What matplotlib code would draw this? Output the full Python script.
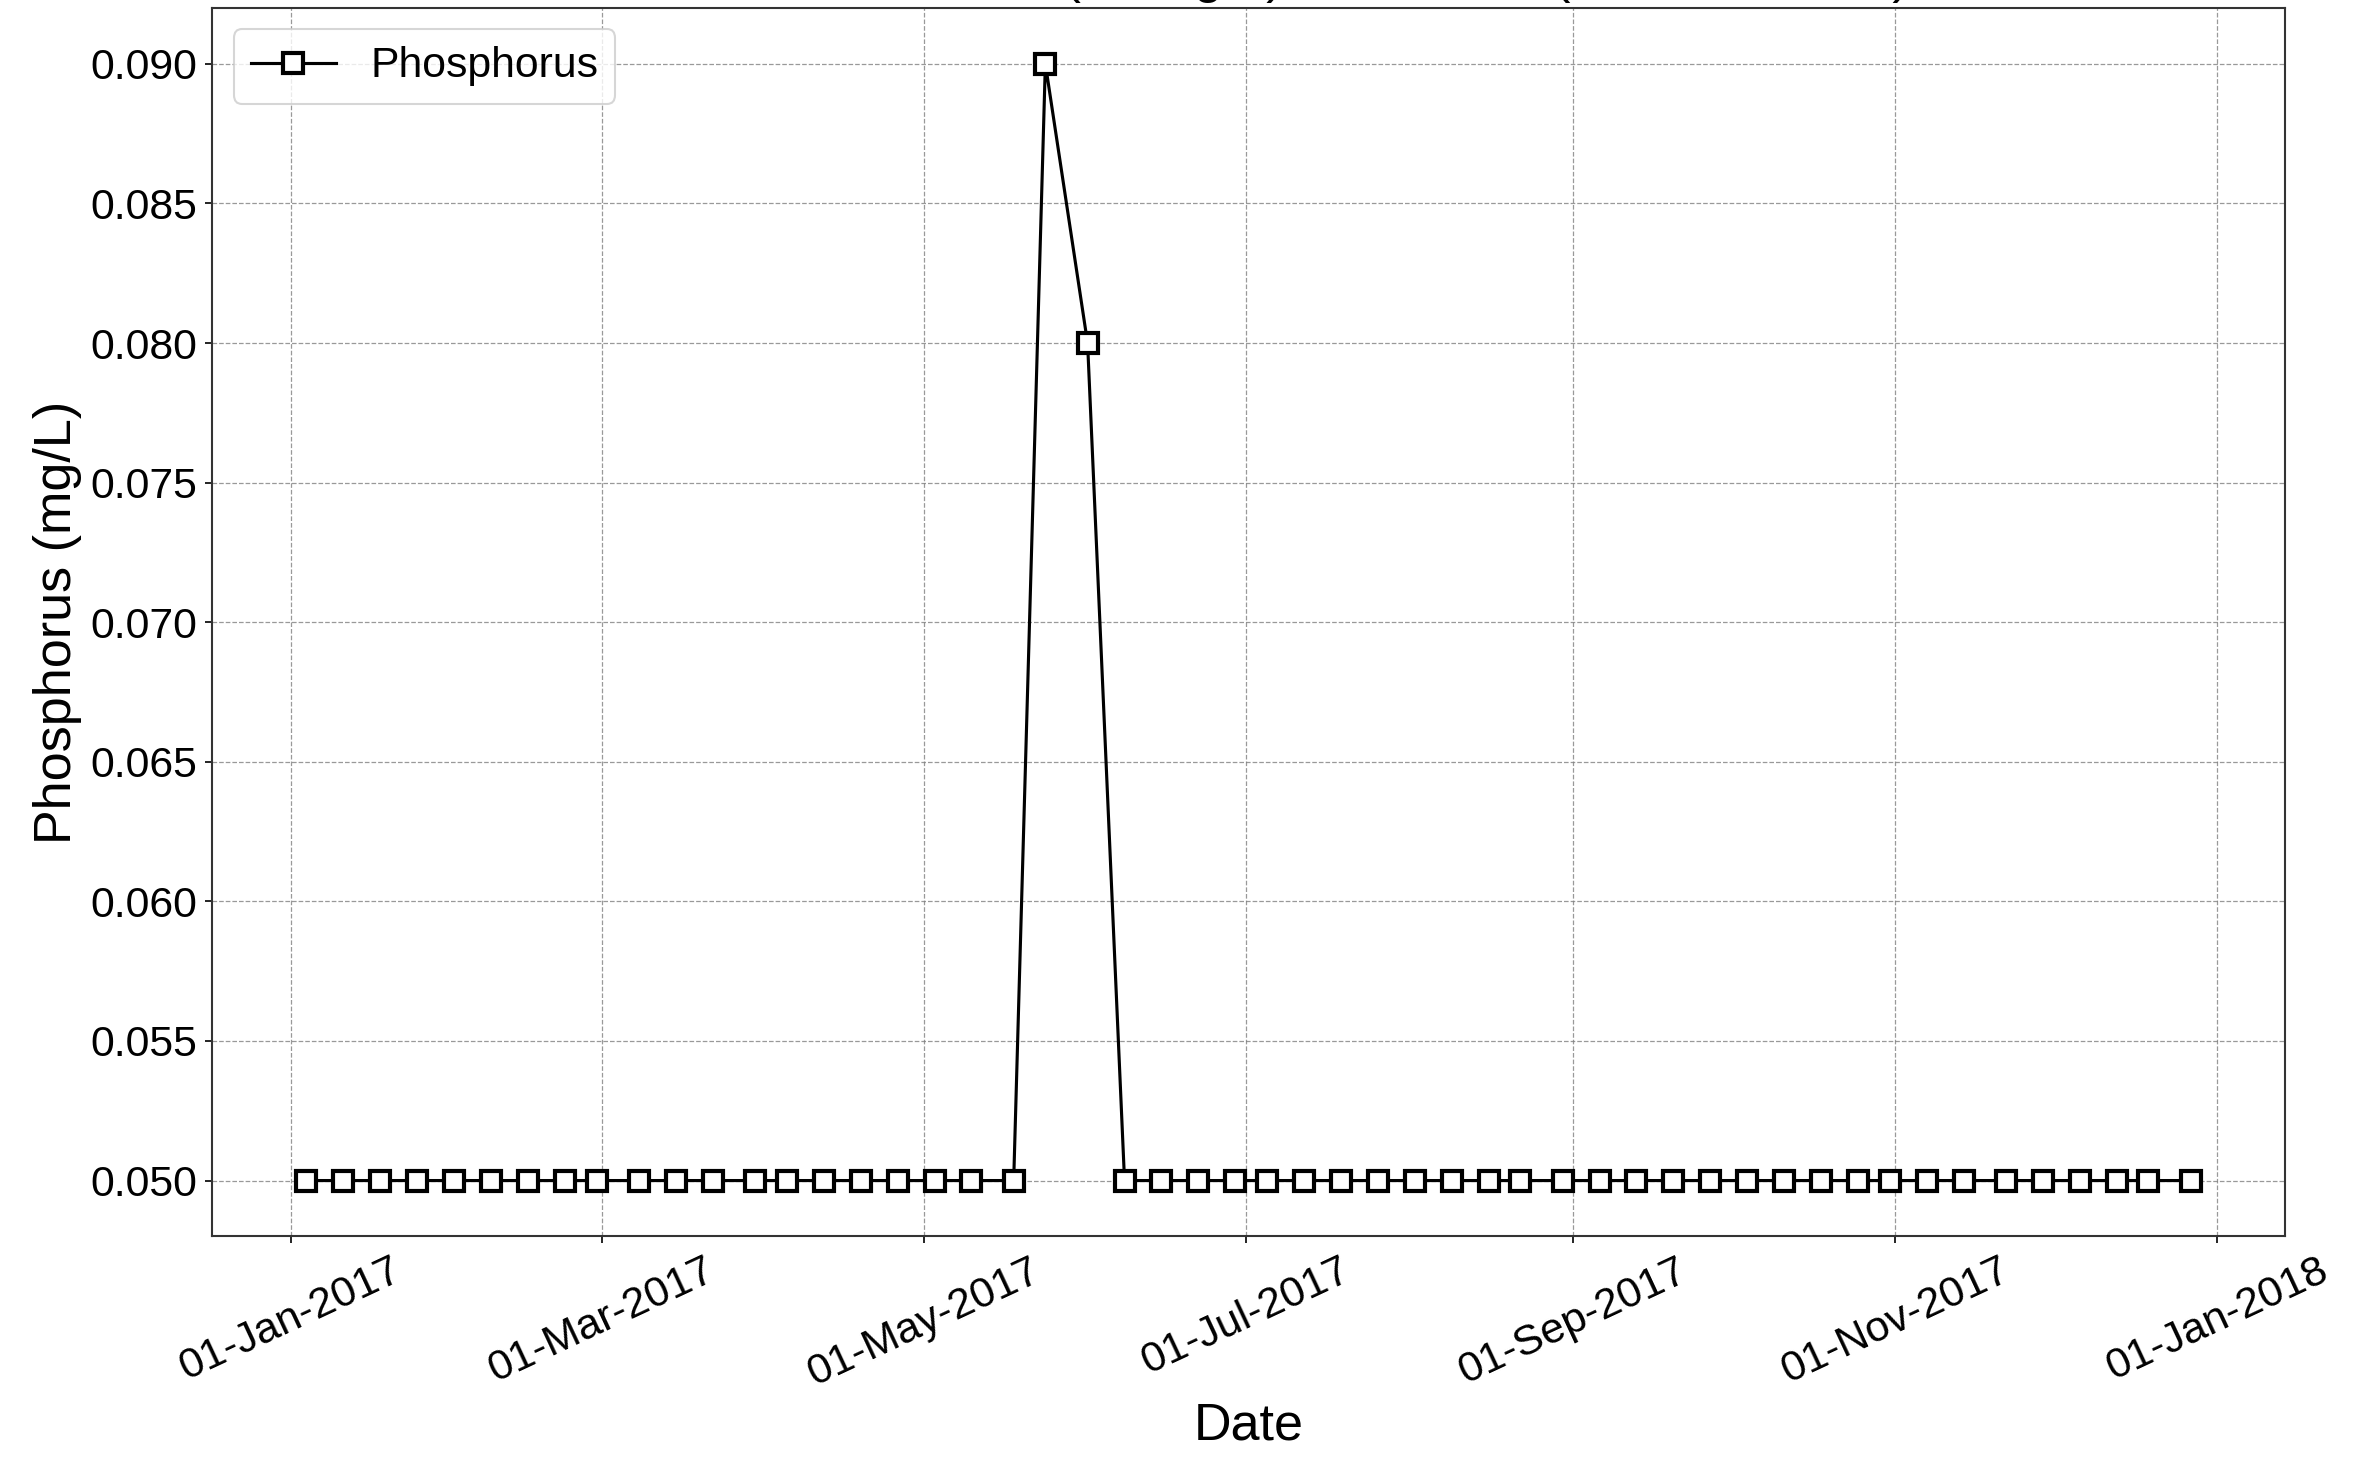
import matplotlib
matplotlib.use("Agg")
import matplotlib.pyplot as plt
import matplotlib.dates as mdates
import pandas as pd

plt.rcParams['font.family'] = ['Liberation Sans', 'DejaVu Sans']

# sampling dates (2017) and phosphorus results
dates = [
    "2017-01-04", "2017-01-11", "2017-01-18", "2017-01-25", "2017-02-01",
    "2017-02-08", "2017-02-15", "2017-02-22", "2017-02-28", "2017-03-08",
    "2017-03-15", "2017-03-22", "2017-03-30", "2017-04-05", "2017-04-12",
    "2017-04-19", "2017-04-26", "2017-05-03", "2017-05-10", "2017-05-18",
    "2017-05-24", "2017-06-01", "2017-06-08", "2017-06-15", "2017-06-22",
    "2017-06-29", "2017-07-05", "2017-07-12", "2017-07-19", "2017-07-26",
    "2017-08-02", "2017-08-09", "2017-08-16", "2017-08-22", "2017-08-30",
    "2017-09-06", "2017-09-13", "2017-09-20", "2017-09-27", "2017-10-04",
    "2017-10-11", "2017-10-18", "2017-10-25", "2017-10-31", "2017-11-07",
    "2017-11-14", "2017-11-22", "2017-11-29", "2017-12-06", "2017-12-13",
    "2017-12-19", "2017-12-27",
]
phosphorus = [0.05] * 20 + [0.09, 0.08] + [0.05] * 30

x = pd.to_datetime(dates)

fig, ax = plt.subplots(figsize=(15.72, 9.72), dpi=150)
fig.subplots_adjust(left=0.09, right=0.969, top=0.9945, bottom=0.152)

ax.plot(x, phosphorus, color='black', linewidth=1.5, marker='s', markersize=10,
        markerfacecolor='white', markeredgecolor='black', markeredgewidth=2,
        label='Phosphorus')

# title sits above the canvas, only descenders show
ax.set_title("Total Lake Nutrients (as mg/L) Over Time (Station 10520)",
             fontsize=25, y=1.0, pad=7.5)

ax.set_xlabel("Date", fontsize=25)
ax.set_ylabel("Phosphorus (mg/L)", fontsize=25)

ax.xaxis.set_major_locator(mdates.MonthLocator(bymonth=[1, 3, 5, 7, 9, 11]))
ax.xaxis.set_major_formatter(mdates.DateFormatter('%d-%b-%Y'))
ax.yaxis.set_major_formatter(plt.FormatStrFormatter('%.3f'))
plt.setp(ax.get_xticklabels(), rotation=25, ha='center')
ax.tick_params(axis='both', which='major', labelsize=20.5)

ax.grid(True, linestyle='--', linewidth=0.6, color='gray', alpha=0.8)
for s in ax.spines.values():
    s.set_color('#333333')
    s.set_linewidth(1.0)

ax.legend(loc='upper left', fontsize=20.5)

fig.savefig("out.png", dpi=150)
